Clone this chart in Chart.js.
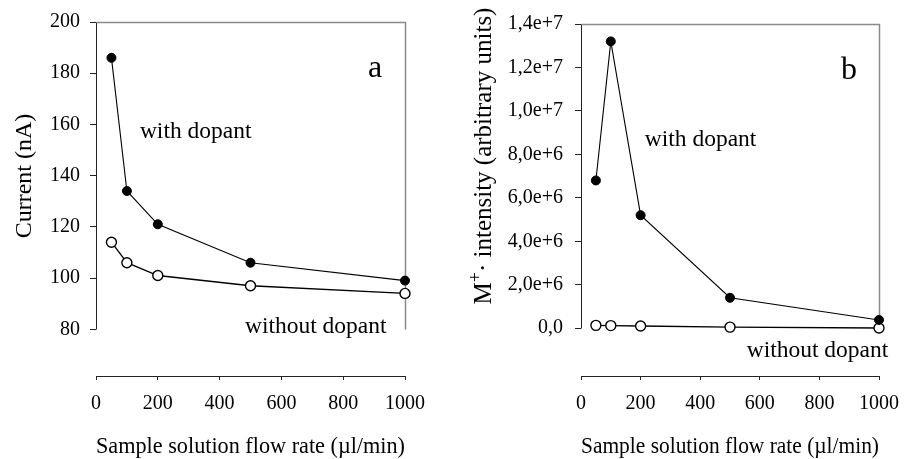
<!DOCTYPE html>
<html>
<head>
<meta charset="utf-8">
<script src="https://cdn.jsdelivr.net/npm/chart.js@4.4.1/dist/chart.umd.min.js"></script>
<style>
html, body { margin: 0; padding: 0; background: #fff; }
.panel { position: absolute; top: 0; height: 459px; }
#panelA { left: 0; width: 455px; }
#panelB { left: 455px; width: 456px; }
</style>
</head>
<body>
<div class="panel" id="panelA"><canvas id="chartA"></canvas></div>
<div class="panel" id="panelB"><canvas id="chartB"></canvas></div>
<script>
// sample solution flow rate (ul/min)
var flowRates = [50, 100, 200, 500, 1000];

// panel a: current (nA)
var currentWithDopant = [186, 134, 121, 106, 99];
var currentWithoutDopant = [114, 106, 101, 97, 94];

// panel b: M+. intensity (arbitrary units)
var intensityWithDopant = [6.8e6, 1.32e7, 5.2e6, 1.4e6, 3.8e5];
var intensityWithoutDopant = [1.3e5, 1.2e5, 1.0e5, 5e4, 1e4];

var xTicks = [0, 200, 400, 600, 800, 1000];
var yTicksA = [80, 100, 120, 140, 160, 180, 200];
var yTicksB = [0, 2e6, 4e6, 6e6, 8e6, 1e7, 1.2e7, 1.4e7];
var yTickLabelsB = ['0,0', '2,0e+6', '4,0e+6', '6,0e+6', '8,0e+6', '1,0e+7', '1,2e+7', '1,4e+7'];

var FONT = "'Liberation Serif', 'Times New Roman', serif";
Chart.defaults.font.family = FONT;
Chart.defaults.color = '#000';

function pairs(xs, ys) {
	return xs.map(function(x, i) { return {x: x, y: ys[i]}; });
}

// axis lines, frame and the text notes
var decorPlugin = {
	id: 'decor',
	beforeDatasetsDraw: function(chart, args, opts) {
		var ctx = chart.ctx, x = chart.scales.x, y = chart.scales.y;
		var yTop = Math.round(y.getPixelForValue(opts.yTicks[opts.yTicks.length - 1])) + 0.5;
		var yBot = Math.round(y.getPixelForValue(opts.yTicks[0])) + 0.5;
		var xL = Math.round(x.getPixelForValue(0)) + 0.5;
		var xR = Math.round(x.getPixelForValue(1000)) + 0.5;
		var bottom = Math.round(chart.chartArea.bottom) + 0.5;
		ctx.save();
		// top and right frame
		ctx.strokeStyle = '#8a8a8a';
		ctx.lineWidth = 1.5;
		ctx.beginPath();
		ctx.moveTo(xL, yTop);
		ctx.lineTo(xR, yTop);
		ctx.lineTo(xR, yBot);
		ctx.stroke();
		// y axis and detached x axis
		ctx.strokeStyle = '#222';
		ctx.lineWidth = 1;
		ctx.beginPath();
		ctx.moveTo(xL, yTop);
		ctx.lineTo(xL, yBot);
		ctx.moveTo(xL, bottom);
		ctx.lineTo(xR, bottom);
		ctx.stroke();
		ctx.restore();
	},
	afterDraw: function(chart, args, opts) {
		var ctx = chart.ctx, x = chart.scales.x, y = chart.scales.y;
		ctx.save();
		ctx.fillStyle = '#000';
		ctx.textBaseline = 'alphabetic';
		opts.notes.forEach(function(n) {
			ctx.font = n.size + 'px ' + FONT;
			ctx.textAlign = n.align || 'left';
			ctx.fillText(n.text, x.getPixelForValue(n.x), y.getPixelForValue(n.y));
		});
		// rotated y title, drawn piece by piece for the superscript
		var total = 0;
		opts.title.forEach(function(p) {
			ctx.font = p.size + 'px ' + FONT;
			p.w = ctx.measureText(p.text).width;
			total += p.w;
		});
		ctx.translate(opts.titleX, opts.titleY);
		ctx.rotate(-Math.PI / 2);
		ctx.textAlign = 'left';
		ctx.textBaseline = 'alphabetic';
		var u = -total / 2;
		opts.title.forEach(function(p) {
			ctx.font = p.size + 'px ' + FONT;
			ctx.fillText(p.text, u, -(p.raise || 0));
			u += p.w;
		});
		ctx.restore();
	}
};

function makePanel(id, o) {
	return new Chart(document.getElementById(id), {
		type: 'line',
		data: {
			datasets: [{
				data: pairs(flowRates, o.withDopant),
				borderColor: '#000', borderWidth: 1.1, clip: false,
				pointRadius: 4.5, pointBackgroundColor: '#000', pointBorderColor: '#000', pointBorderWidth: 1
			}, {
				data: pairs(flowRates, o.withoutDopant),
				borderColor: '#000', borderWidth: 1.3, clip: false,
				pointRadius: 5, pointBackgroundColor: '#fff', pointBorderColor: '#000', pointBorderWidth: 1.4
			}]
		},
		options: {
			responsive: true,
			maintainAspectRatio: false,
			animation: false,
			events: [],
			layout: {padding: {top: o.padTop, right: o.padRight, left: 0, bottom: 0}},
			plugins: {
				legend: {display: false},
				tooltip: {enabled: false},
				decor: {yTicks: o.yTicks, notes: o.notes, title: o.title, titleX: o.titleX, titleY: o.titleY}
			},
			scales: {
				x: {
					type: 'linear', min: 0, max: 1000,
					afterBuildTicks: function(s) { s.ticks = xTicks.map(function(v) { return {value: v}; }); },
					afterFit: function(s) { s.height = 83; },
					border: {display: false},
					grid: {drawOnChartArea: false, drawTicks: true, tickLength: 4, color: '#222', lineWidth: 1},
					ticks: {font: {family: FONT, size: 20}, padding: 12, maxRotation: 0, callback: function(v) { return String(v); }},
					title: {display: true, text: 'Sample solution flow rate (\u00b5l/min)', font: {family: FONT, size: 24, lineHeight: 1}, padding: 0}
				},
				y: {
					type: 'linear', min: o.yMin, max: o.yMax,
					afterBuildTicks: function(s) { s.ticks = o.yTicks.map(function(v) { return {value: v}; }); },
					afterFit: function(s) { s.width = o.axisLeft; },
					border: {display: false},
					grid: {drawOnChartArea: false, drawTicks: true, tickLength: 6, color: '#222', lineWidth: 1},
					ticks: {font: {family: FONT, size: 20}, padding: o.labelPad, callback: o.tickLabel}
				}
			}
		},
		plugins: [decorPlugin]
	});
}

makePanel('chartA', {
	withDopant: currentWithDopant,
	withoutDopant: currentWithoutDopant,
	yMin: 61.75, yMax: 200, yTicks: yTicksA,
	tickLabel: function(v) { return String(v); },
	axisLeft: 96, labelPad: 10, padTop: 20, padRight: 50,
	titleX: 31, titleY: 176,
	title: [{text: 'Current (nA)', size: 24}],
	notes: [
		{text: 'a', x: 903, y: 178.6, size: 32, align: 'center'},
		{text: 'with dopant', x: 142, y: 154.6, size: 23.5},
		{text: 'without dopant', x: 482, y: 78.4, size: 23.5}
	]
});

makePanel('chartB', {
	withDopant: intensityWithDopant,
	withoutDopant: intensityWithoutDopant,
	yMin: -2.2e6, yMax: 1.4e7, yTicks: yTicksB,
	tickLabel: function(v) { return yTickLabelsB[yTicksB.indexOf(v)]; },
	axisLeft: 126, labelPad: 12, padTop: 19, padRight: 22,
	titleX: 36, titleY: 156,
	title: [
		{text: 'M', size: 25},
		{text: '+', size: 18, raise: 10},
		{text: '\u00b7 intensity (arbitrary units)', size: 25}
	],
	notes: [
		{text: 'b', x: 899, y: 1.146e7, size: 32, align: 'center'},
		{text: 'with dopant', x: 214, y: 8.37e6, size: 23.5},
		{text: 'without dopant', x: 556, y: -1.34e6, size: 23.5}
	]
});
</script>
</body>
</html>
